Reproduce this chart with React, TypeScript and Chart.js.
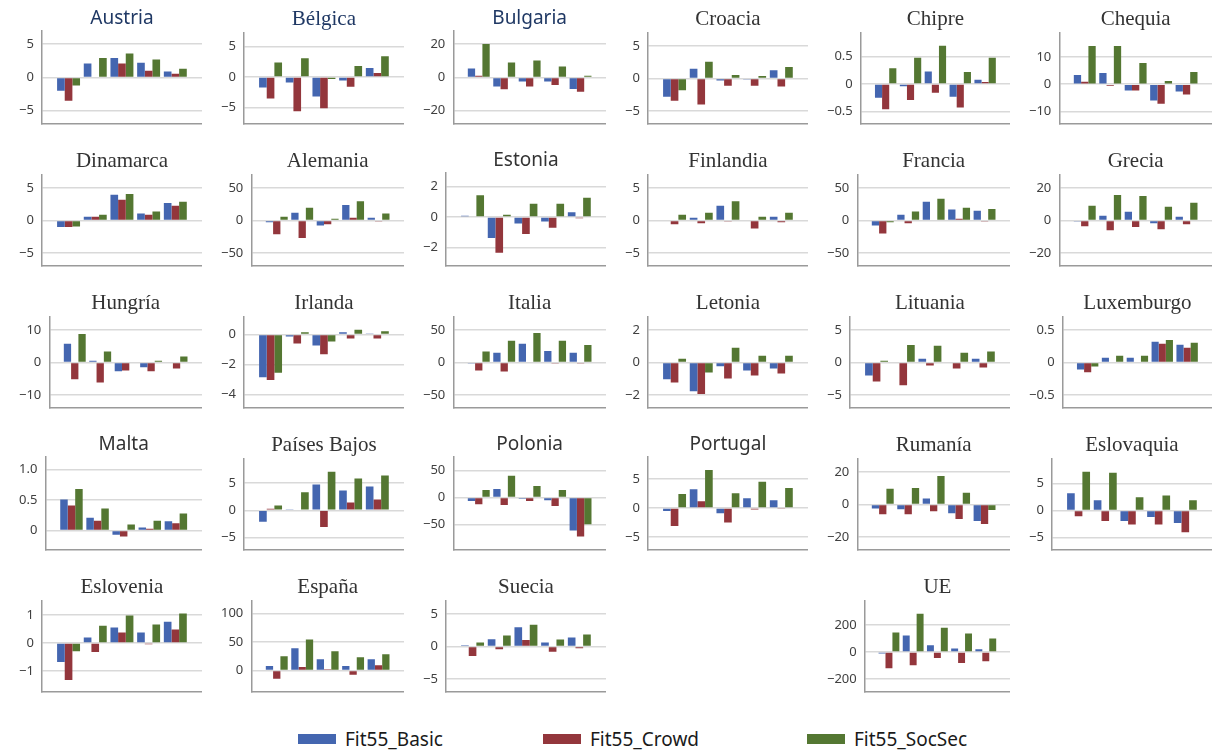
import React, { useEffect, useRef } from "react";
import { Chart, registerables } from "chart.js";

Chart.register(...registerables);

// ---------- DATA ----------
const countries = [
  "Austria", "Bélgica", "Bulgaria", "Croacia", "Chipre", "Chequia",
  "Dinamarca", "Alemania", "Estonia", "Finlandia", "Francia", "Grecia",
  "Hungría", "Irlanda", "Italia", "Letonia", "Lituania", "Luxemburgo",
  "Malta", "Países Bajos", "Polonia", "Portugal", "Rumanía", "Eslovaquia",
  "Eslovenia", "España", "Suecia", "UE",
];

const groupLabels = ["1", "2", "3", "4", "5"];
const seriesNames = ["Fit55_Basic", "Fit55_Crowd", "Fit55_SocSec"];

const fit55Basic = [
  [-2.0, 2.1, 2.9, 2.2, 0.9],
  [-1.7, -0.9, -3.2, -0.55, 1.5],
  [5.3, -5.5, -2.4, -2.4, -6.9],
  [-2.8, 1.5, -0.3, -0.15, 1.3],
  [-0.25, -0.04, 0.23, -0.23, 0.08],
  [3.4, 4.1, -2.3, -6.0, -2.7],
  [-1.0, 0.6, 4.0, 1.1, 2.7],
  [-2.5, 12, -7.5, 24, 4.5],
  [0.09, -1.36, -0.42, -0.29, 0.31],
  [0.15, 0.45, 2.3, 0.15, 0.6],
  [-7.5, 9, 29, 17, 15],
  [-0.6, 3.0, 5.5, -1.6, 2.4],
  [5.8, 0.6, -2.7, -1.4, 0.3],
  [-2.84, -0.13, -0.73, 0.15, 0.07],
  [-1.5, 15, 29, 18, 15],
  [-1.02, -1.76, -0.22, -0.49, -0.37],
  [-2.0, 0.15, 0.6, 0.15, 0.6],
  [-0.105, 0.075, 0.075, 0.32, 0.275],
  [0.51, 0.21, -0.07, 0.05, 0.15],
  [-2.1, 0.18, 4.75, 3.65, 4.4],
  [-6.3, 15.8, -2.5, -5, -61.4],
  [-0.5, 3.25, -0.9, 1.7, 1.35],
  [-2.4, -2.8, 3.7, -5.3, -10.1],
  [3.2, 1.9, -1.95, -1.2, -2.3],
  [-0.67, 0.2, 0.55, 0.38, 0.76],
  [8, 39, 19.8, 8, 19.8],
  [0.2, 1.15, 3.0, 0.65, 1.4],
  [-10, 122, 51, 27, 20],
];

const fit55Crowd = [
  [-3.5, 0.1, 2.1, 1.0, 0.55],
  [-3.5, -5.6, -5.1, -1.6, 0.65],
  [1.0, -7.1, -5.5, -4.5, -8.6],
  [-3.4, -4.0, -1.1, -1.1, -1.2],
  [-0.46, -0.29, -0.16, -0.43, 0.04],
  [0.85, -0.6, -2.3, -7.2, -3.8],
  [-1.0, 0.6, 3.2, 0.9, 2.3],
  [-21, -27, -5.5, 4.5, -1.5],
  [0.05, -2.33, -1.1, -0.7, -0.07],
  [-0.55, -0.4, -0.15, -1.2, -0.25],
  [-20, -4, 1.5, 3, -1.5],
  [-3.5, -6, -4, -5.3, -2.2],
  [-5.1, -6.1, -2.4, -2.7, -1.8],
  [-3.03, -0.59, -1.32, -0.26, -0.26],
  [-12, -13.7, 1.5, -1.5, -1.5],
  [-1.22, -1.94, -0.98, -0.8, -0.67],
  [-2.9, -3.5, -0.45, -0.9, -0.75],
  [-0.15, 0.015, 0.015, 0.29, 0.23],
  [0.41, 0.16, -0.1, 0.03, 0.12],
  [0.3, -0.12, -3.05, 1.45, 2.0],
  [-12.7, -14, -6.3, -15.8, -72.8],
  [-3.1, 1.15, -2.5, -0.23, -0.15],
  [-5.9, -5.9, -4.1, -8.9, -12],
  [-1.05, -1.95, -2.6, -2.6, -4.0],
  [-1.31, -0.32, 0.38, -0.04, 0.48],
  [-14.5, 6, 2.3, -7.6, 9.3],
  [-1.45, -0.4, 1.0, -0.8, -0.25],
  [-120, -98, -44, -80, -68],
];

const fit55SocSec = [
  [-1.2, 2.9, 3.6, 2.7, 1.3],
  [2.4, 3.1, -0.3, 1.8, 3.4],
  [20, 9.0, 10.2, 6.5, 1.0],
  [-1.8, 2.6, 0.55, 0.4, 1.8],
  [0.29, 0.48, 0.7, 0.22, 0.48],
  [14, 14, 7.8, 1.2, 4.5],
  [-0.9, 0.9, 4.1, 1.4, 2.9],
  [6, 20, 3, 30, 11],
  [1.43, 0.15, 0.88, 0.88, 1.27],
  [0.9, 1.2, 3.0, 0.6, 1.2],
  [-2.5, 14, 33.5, 20, 18],
  [9.1, 15.8, 15.2, 8.5, 11],
  [8.8, 3.4, 0.3, 0.6, 1.9],
  [-2.55, 0.15, -0.46, 0.33, 0.22],
  [17, 33.5, 45.7, 33.5, 27],
  [0.24, -0.61, 0.92, 0.43, 0.43],
  [0.3, 2.7, 2.6, 1.5, 1.7],
  [-0.06, 0.105, 0.105, 0.35, 0.305],
  [0.68, 0.36, 0.1, 0.16, 0.28],
  [0.9, 3.3, 7.1, 5.85, 6.4],
  [14, 40.5, 21.5, 14, -50],
  [2.4, 6.55, 2.55, 4.5, 3.45],
  [9.7, 10.3, 17.6, 7.3, -3.4],
  [7.2, 7.0, 2.45, 2.8, 1.9],
  [-0.29, 0.62, 0.98, 0.66, 1.05],
  [25, 54.6, 33.7, 23.3, 28.5],
  [0.65, 1.7, 3.35, 1.1, 1.85],
  [144, 283, 180, 137, 100],
];

// y-axis ranges and tick steps per chart
const yMin = [
  -7, -7.7, -28, -7, -0.73, -14.6,
  -7, -70, -3.2, -7, -70, -28,
  -14, -4.9, -70, -2.8, -7, -0.7,
  -0.32, -7.3, -98, -7.2, -28, -7.3,
  -1.74, -38, -7, -295,
];
const yMax = [
  7, 7.2, 28, 7, 0.93, 18.7,
  7, 70, 2.9, 7, 70, 28,
  14, 1.16, 70, 2.8, 7, 0.7,
  1.21, 9.4, 76, 8.8, 28, 9.5,
  1.49, 122, 7, 376,
];
const yStep = [
  5, 5, 20, 5, 0.5, 10,
  5, 50, 2, 5, 50, 20,
  10, 2, 50, 2, 5, 0.5,
  0.5, 5, 50, 5, 20, 5,
  1, 50, 5, 200,
];
const tickDecimals = [
  0, 0, 0, 0, 1, 0,
  0, 0, 0, 0, 0, 0,
  0, 0, 0, 0, 0, 1,
  1, 0, 0, 0, 0, 0,
  0, 0, 0, 0,
];

// ---------- STYLE ----------
const seriesColors = ["#4466B0", "#93363C", "#547732"];
const sansTitles = ["Austria", "Bulgaria", "Estonia", "Malta", "Polonia", "Portugal"];
const navyTitles = ["Austria", "Bélgica", "Bulgaria"];
const CELL_W = 202;
const CELL_H = 142;
const ueSlot = 28;

function fmtTick(v: number, dec: number): string {
  if (Math.abs(v) < 1e-9) return "0";
  const s = Math.abs(v).toFixed(dec);
  return (v < 0 ? "\u2212" : "") + s;
}

function SmallChart({ idx }: { idx: number }) {
  const ref = useRef<HTMLCanvasElement | null>(null);
  useEffect(() => {
    if (!ref.current) return;
    const name = countries[idx];
    const labels = ["", ...groupLabels, ""];
    const pad = (arr: number[]) => [null, ...arr, null];
    const series = [fit55Basic[idx], fit55Crowd[idx], fit55SocSec[idx]];
    const isSans = sansTitles.includes(name);
    const chart = new Chart(ref.current, {
      type: "bar",
      data: {
        labels,
        datasets: series.map((vals, s) => ({
          label: seriesNames[s],
          data: pad(vals) as any,
          backgroundColor: seriesColors[s],
          borderWidth: 0,
          categoryPercentage: 0.86,
          barPercentage: 1.0,
        })),
      },
      options: {
        animation: false,
        responsive: false,
        devicePixelRatio: 1,
        layout: { padding: { left: 11, right: 0, top: 0, bottom: 18 } },
        plugins: {
          legend: { display: false },
          tooltip: { enabled: false },
          title: {
            display: true,
            text: name,
            fullSize: false,
            color: navyTitles.includes(name) ? "#1F3864" : "#333333",
            font: {
              family: isSans ? "'Noto Sans', sans-serif" : "'Liberation Serif', serif",
              size: isSans ? 19 : 21,
              weight: "normal",
            },
            padding: { top: 7, bottom: 1 },
          },
        },
        scales: {
          x: {
            type: "category",
            offset: false,
            grid: { display: false, drawTicks: false },
            border: { display: true, color: "#9a9a9a", width: 1.5 },
            ticks: { display: false },
          },
          y: {
            min: yMin[idx],
            max: yMax[idx],
            grid: { color: "#d9d9d9", lineWidth: 1.5, drawTicks: false },
            border: { display: true, color: "#9a9a9a", width: 1.5 },
            ticks: {
              stepSize: yStep[idx],
              includeBounds: false,
              padding: 8,
              color: "#404040",
              font: { family: "'Noto Sans', sans-serif", size: 13 },
              callback: (v: any) => fmtTick(Number(v), tickDecimals[idx]),
            },
          },
        },
      } as any,
    });
    return () => chart.destroy();
  }, [idx]);
  return <canvas ref={ref} width={CELL_W} height={CELL_H} style={{ display: "block" }} />;
}

export default function App() {
  return (
    <div
      style={{
        position: "absolute",
        left: 0,
        top: 0,
        width: 1213,
        height: 753,
        background: "#ffffff",
        overflow: "hidden",
      }}
    >
      {countries.map((c, i) => {
        const slot = c === "UE" ? ueSlot : i;
        const row = Math.floor(slot / 6);
        const col = slot % 6;
        return (
          <div
            key={c}
            style={{ position: "absolute", left: col * CELL_W, top: row * CELL_H, width: CELL_W, height: CELL_H }}
          >
            <SmallChart idx={i} />
          </div>
        );
      })}
      {seriesNames.map((s, i) => (
        <div
          key={s}
          style={{
            position: "absolute",
            left: [298, 543, 807][i],
            top: 726,
            height: 26,
            display: "flex",
            alignItems: "center",
            fontFamily: "'Noto Sans', sans-serif",
            fontSize: 19,
            color: "#1a1a1a",
            whiteSpace: "nowrap",
          }}
        >
          <span style={{ display: "inline-block", width: 38, height: 10, background: seriesColors[i], marginRight: 9 }} />
          <span>{s}</span>
        </div>
      ))}
    </div>
  );
}
